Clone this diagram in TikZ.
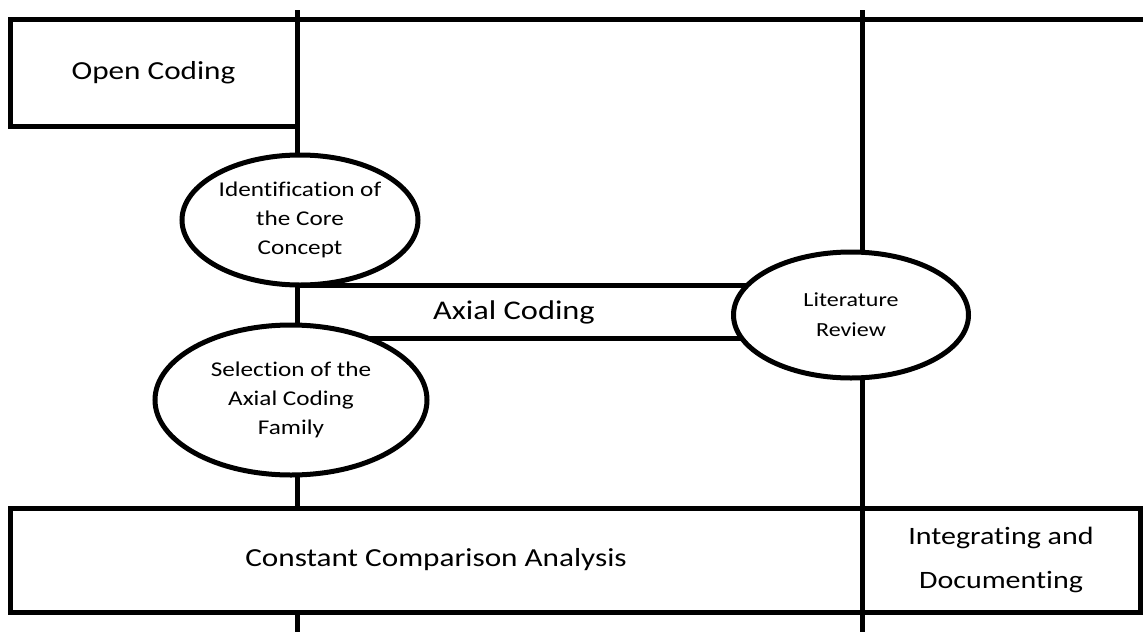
\documentclass[tikz,border=0pt]{standalone}
\usepackage{fontspec}
\setmainfont{Carlito}[FakeStretch=1.2,Ligatures=NoCommon]
\usetikzlibrary{shapes.geometric}
\begin{document}
\begin{tikzpicture}[x=1pt,y=-1pt,line width=5pt,
    box/.style={draw,fill=white,inner sep=0pt,align=center,font=\fontsize{26}{44}\selectfont},
    bubble/.style={draw,fill=white,ellipse,inner sep=0pt,align=center,font=\fontsize{21}{29}\selectfont}]
    \useasboundingbox (0,0) rectangle (1144,632);
    % phase lines
    \coordinate (ptop) at (297,10);
    \coordinate (pbot) at (297,632);
    \coordinate (qtop) at (862,10);
    \coordinate (qbot) at (862,632);
    \coordinate (lstart) at (10,19);
    \coordinate (lend) at (1143,19);
    \draw (ptop)--(pbot);
    \draw (qtop)--(qbot);
    \draw (lstart)--(lend);
    % boxes
    \node[box,minimum width=287,minimum height=107] (open) at (153.5,72.5) {Open Coding};
    \node[box,minimum width=565,minimum height=53] (axial) at (579.5,311.5) {};
    \node[font=\fontsize{27}{30}\selectfont] (axialtext) at (514,312) {Axial Coding};
    % ellipses
    \node[bubble,minimum width=236,minimum height=130] (core) at (300,220)
        {Identification of\\the Core\\Concept};
    \node[bubble,minimum width=272,minimum height=150] (family) at (291,400)
        {Selection of the\\Axial Coding\\Family};
    \node[bubble,minimum width=235,minimum height=126,font=\fontsize{20}{30}\selectfont] (review) at (851,315)
        {Literature\\Review};
    % bottom
    \node[box,minimum width=852,minimum height=104] (cca) at (436,560) {Constant Comparison Analysis};
    \node[box,minimum width=278,minimum height=104,font=\fontsize{25}{44}\selectfont] (integ) at (1001,560)
        {Integrating and\\Documenting};
\end{tikzpicture}
\end{document}
